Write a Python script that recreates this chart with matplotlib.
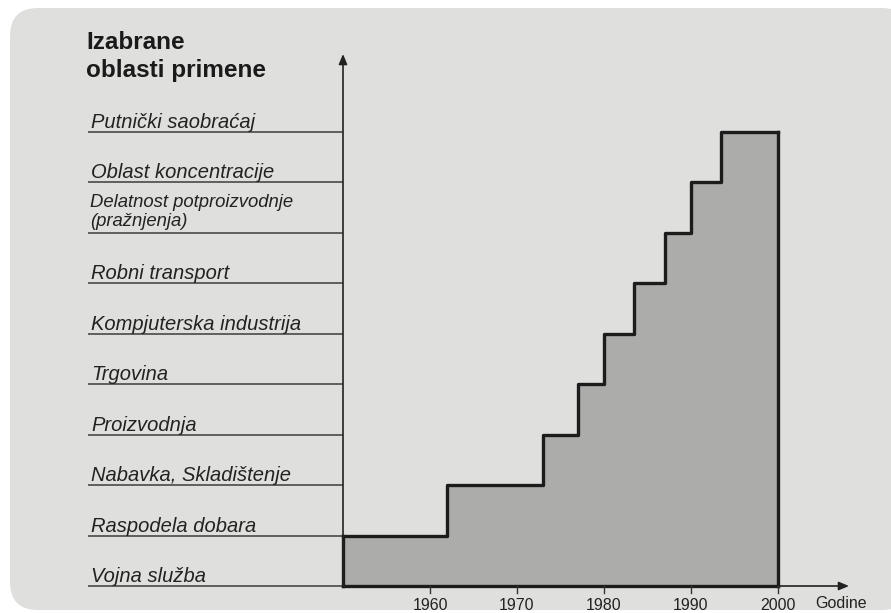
import numpy as np
import matplotlib.pyplot as plt
from matplotlib.patches import FancyBboxPatch

# Podaci
categories = ["Vojna služba", "Raspodela dobara", "Nabavka, Skladištenje",
              "Proizvodnja", "Trgovina", "Kompjuterska industrija",
              "Robni transport", "Delatnost potproizvodnje\n(pražnjenja)",
              "Oblast koncentracije", "Putnički saobraćaj"]
cat_levels = np.arange(len(categories))

step_years = [1950, 1962, 1973, 1977, 1980, 1983.5, 1987, 1990, 1993.5, 2000]
step_levels = [1, 2, 3, 4, 5, 6, 7, 8, 9, 9]
year_ticks = [1960, 1970, 1980, 1990, 2000]

W, H = 891, 613
fig = plt.figure(figsize=(W / 100, H / 100), dpi=100)
fig.patch.set_facecolor("white")

# Sivi panel sa zaobljenim uglom
panel = FancyBboxPatch((10, 3), 900, 602, boxstyle="round,pad=0,rounding_size=28",
                       transform=None, facecolor="#dfdfdd", edgecolor="none",
                       zorder=-10)
fig.add_artist(panel)

# Ose preko cele slike, granice tako da 1950->343px, 2000->778px, 0->586px, 9->132px
ax = fig.add_axes([0, 0, 1, 1])
ax.patch.set_visible(False)
ax.axis("off")
px_year = (778 - 343) / 50
px_lvl = (586 - 132) / 9
ax.set_xlim(1950 - 343 / px_year, 2000 + (W - 778) / px_year)
ax.set_ylim(-(H - 586) / px_lvl, 9 + 132 / px_lvl)

def xp(px):
    return 1950 + (px - 343) / px_year

def yp(py):
    return (586 - py) / px_lvl

txt = "#222222"
font = "Liberation Sans"

# Stepenasta povrsina
ax.fill_between(step_years, 0, step_levels, step="post", color="#acacab", zorder=2)
ax.step(step_years, step_levels, where="post", color="#1c1c1c", lw=2.4, zorder=3)
ax.plot([1950, 1950], [0, 1], color="#1c1c1c", lw=2.4, zorder=3)
ax.plot([2000, 2000], [0, 9], color="#1c1c1c", lw=2.4, zorder=3)
ax.plot([1950, 2000], [0, 0], color="#1c1c1c", lw=2.4, zorder=3)

# Linije kategorija levo od ose
ax.hlines(cat_levels, xp(88), 1950, color="#4a4a4a", lw=1.2, zorder=2)
for lvl, name in zip(cat_levels, categories):
    two_lines = "\n" in name
    ax.text(xp(90 if two_lines else 91), lvl + (7 if two_lines else 4) / px_lvl, name,
            fontsize=13.3 if two_lines else 14.5, style="italic", family=font,
            color=txt, ha="left", va="baseline", linespacing=1.15)

# Ose sa strelicama
ax.annotate("", xy=(1950, yp(54)), xytext=(1950, 0),
            arrowprops=dict(arrowstyle="-|>,head_length=0.6,head_width=0.25",
                            color="#222222", lw=1.2, shrinkA=0, shrinkB=0), zorder=4)
ax.annotate("", xy=(xp(849), 0), xytext=(2000, 0),
            arrowprops=dict(arrowstyle="-|>,head_length=0.6,head_width=0.25",
                            color="#222222", lw=1.2, shrinkA=0, shrinkB=0), zorder=4)

# Podeoci i oznake godina
for yr in year_ticks:
    ax.plot([yr, yr], [0, yp(593)], color="#333333", lw=1.0, zorder=4)
    ax.text(yr, yp(605), str(yr), fontsize=11.5, family=font, color=txt,
            ha="center", va="center")
ax.text(xp(841), yp(603), "Godine", fontsize=11.5, family=font, color=txt,
        ha="center", va="center")

# Naslov y ose
ax.text(xp(86), yp(31), "Izabrane\noblasti primene", fontsize=17.5, weight="bold",
        family=font, color="#1a1a1a", ha="left", va="top", linespacing=1.25)

plt.savefig("out.png", dpi=100)
